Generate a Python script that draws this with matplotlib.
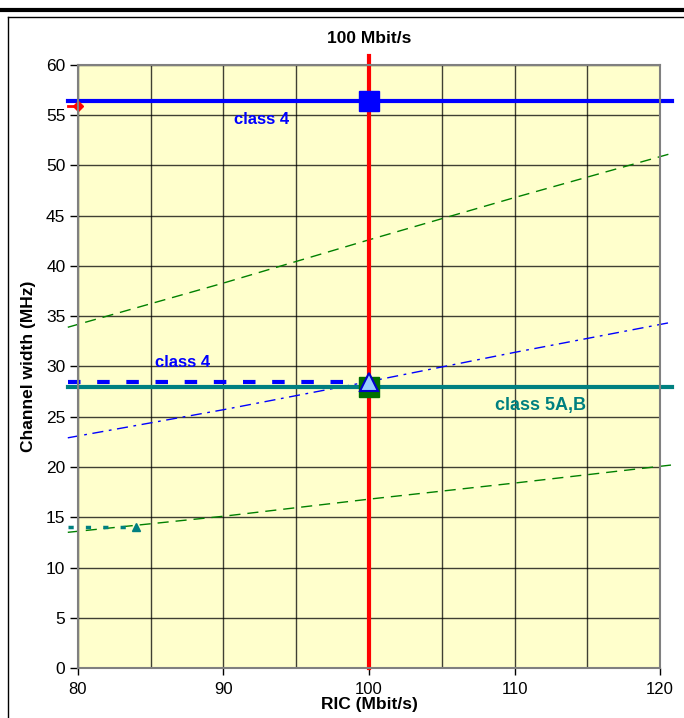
import matplotlib.pyplot as plt
from matplotlib.lines import Line2D

plt.rcParams['font.family'] = ['Liberation Sans', 'DejaVu Sans']

# RIC range covered by the requirement lines (slightly past the axis ends)
ric_span = [79.3, 120.8]
ric_curve = [79.3, 90, 100, 110, 120.8]

# channel width needed by each coding option (MHz)
upper_green = [33.9, 38.3, 42.6, 46.8, 51.2]
mid_blue = [22.9, 25.7, 28.5, 31.4, 34.4]
lower_green = [13.5, 15.1, 16.8, 18.4, 20.2]

class4_top = 56.4
class4_mid = 28.5
class5ab = 28.0
target_ric = 100
low_point_x = 84.0
low_point_y = 14.0
red_point_y = 55.9

fig = plt.figure(figsize=(6.84, 7.18), dpi=100)
ax = fig.add_axes([0.114, 0.0696, 0.851, 0.84])
ax.set_facecolor('#FFFFCC')

ax.set_xlim(80, 120)
ax.set_ylim(0, 60)
ax.set_xticks(range(80, 121, 10))
ax.set_xticks(range(85, 120, 10), minor=True)
ax.set_yticks(range(0, 61, 5))
ax.grid(True, which='both', color='black', linewidth=1, alpha=0.75)
ax.set_axisbelow(True)
ax.tick_params(axis='y', direction='out', length=6, width=1, pad=3, labelsize=12.5)
ax.tick_params(axis='x', which='major', direction='out', length=5, width=1, pad=5, labelsize=12)
ax.tick_params(axis='x', which='minor', length=0)
for s in ax.spines.values():
    s.set_color('#808080')
    s.set_linewidth(1.5)

# sloped requirement curves
ax.plot(ric_curve, upper_green, color='#008000', lw=1, dashes=(8, 5), clip_on=False)
ax.plot(ric_curve, mid_blue, color='#0000FF', lw=1, dashes=(8, 4, 2, 4), clip_on=False)
ax.plot(ric_curve, lower_green, color='#008000', lw=1, dashes=(8, 5), clip_on=False)

# horizontal class limits
ax.plot(ric_span, [class4_top, class4_top], color='#0000FF', lw=3, clip_on=False)
ax.plot(ric_span, [class5ab, class5ab], color='#008080', lw=3, clip_on=False)
ax.plot([ric_span[0], target_ric], [class4_mid, class4_mid], color='#0000FF', lw=3,
        dashes=(3, 4), clip_on=False)
ax.plot([ric_span[0], low_point_x], [low_point_y, low_point_y], color='#008080', lw=2.5,
        dashes=(1.5, 3.5), clip_on=False)
ax.plot([ric_span[0], 80], [red_point_y, red_point_y], color='red', lw=2, clip_on=False)

# 100 Mbit/s marker line
ax.plot([target_ric, target_ric], [0, 60.9], color='red', lw=3, clip_on=False)

# operating points
ax.plot(target_ric, class4_top, 's', color='#0000FF', ms=15, clip_on=False)
ax.plot(target_ric, class5ab, 's', color='#007000', ms=15)
ax.plot(target_ric, class4_mid, '^', mfc='#99CCFF', mec='#0000CC', mew=1.5, ms=13)
ax.plot(low_point_x, low_point_y, '^', color='#008080', ms=6)
ax.plot(80, red_point_y, 'D', color='red', ms=5, clip_on=False)

ax.text(92.6, 54.6, 'class 4', color='#0000FF', fontsize=12, fontweight='bold',
        ha='center', va='center')
ax.text(87.2, 30.4, 'class 4', color='#0000FF', fontsize=12, fontweight='bold',
        ha='center', va='center')
ax.text(111.8, 26.1, 'class 5A,B', color='#008080', fontsize=13, fontweight='bold',
        ha='center', va='center')

ax.set_title('100 Mbit/s', fontsize=12.5, fontweight='bold', pad=16)
ax.set_xlabel('RIC (Mbit/s)', fontsize=12.5, fontweight='bold', labelpad=0)
ax.set_ylabel('Channel width (MHz)', fontsize=12.5, fontweight='bold', labelpad=7)

# page frame around the chart
fig.add_artist(Line2D([0, 1], [0.986, 0.986], color='black', lw=3, transform=fig.transFigure))
fig.add_artist(Line2D([8 / 684, 1], [0.976, 0.976], color='black', lw=1, transform=fig.transFigure))
fig.add_artist(Line2D([8 / 684, 8 / 684], [0, 0.976], color='black', lw=1, transform=fig.transFigure))

fig.savefig('out.png', dpi=100)
